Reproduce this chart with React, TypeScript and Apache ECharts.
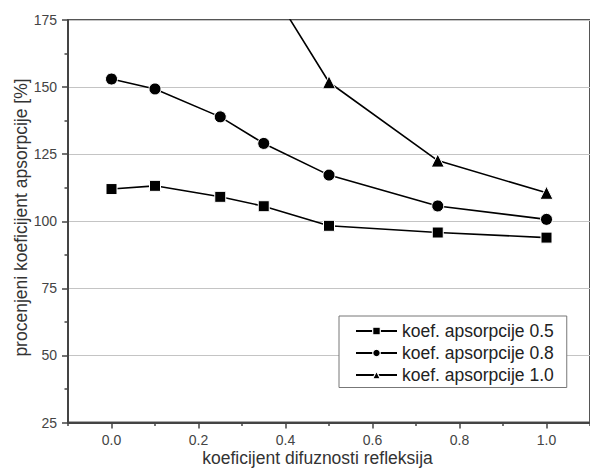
import React, { useEffect, useRef } from "react";
import * as echarts from "echarts";

// Data
const xTicks = [0.0, 0.2, 0.4, 0.6, 0.8, 1.0];
const seriesNames = ["koef. apsorpcije 0.5", "koef. apsorpcije 0.8", "koef. apsorpcije 1.0"];
const x05 = [0.0, 0.1, 0.25, 0.35, 0.5, 0.75, 1.0];
const y05 = [112.0, 113.2, 109.1, 105.6, 98.3, 95.8, 93.9];
const x08 = [0.0, 0.1, 0.25, 0.35, 0.5, 0.75, 1.0];
const y08 = [153.0, 149.3, 138.9, 129.0, 117.2, 105.7, 100.7];
const x10 = [0.35, 0.5, 0.75, 1.0];
const y10 = [191.0, 151.8, 122.6, 110.6];
const xTitle = "koeficijent difuznosti refleksija";
const yTitle = "procenjeni koeficijent apsorpcije [%]";

const FONT = "'Liberation Sans', Arial, Helvetica, sans-serif";

const zip = (xs: number[], ys: number[]) => xs.map((x, i) => [x, ys[i]]);

export default function App() {
  const ref = useRef<HTMLDivElement>(null);
  useEffect(() => {
    if (!ref.current) return;
    const chart = echarts.init(ref.current, undefined, { renderer: "svg" });
    const mkSeries = (name: string, data: number[][], symbol: string, size: number) => ({
      name,
      type: "line",
      xAxisIndex: 0,
      yAxisIndex: 0,
      data,
      symbol,
      symbolSize: size,
      clip: true,
      lineStyle: { color: "#000", width: 1.6 },
      itemStyle: { color: "#000", borderColor: "#fff", borderWidth: 1 },
      z: 3,
    });
    chart.setOption({
      animation: false,
      backgroundColor: "#fff",
      textStyle: { fontFamily: FONT },
      grid: {
        left: 68,
        right: -1,
        top: 20,
        bottom: 47.5,
        show: true,
        borderColor: "#555",
        borderWidth: 2,
        backgroundColor: "transparent",
      },
      xAxis: [
        {
          type: "value",
          position: "bottom",
          min: -0.1,
          max: 1.1,
          interval: 0.2,
          axisLine: { show: true, onZero: false, lineStyle: { color: "#444", width: 2 } },
          axisTick: { show: true, customValues: xTicks, length: 6, lineStyle: { color: "#444", width: 1.5 } },
          axisLabel: {
            show: true,
            customValues: xTicks,
            margin: 10,
            fontSize: 14,
            color: "#444",
            fontFamily: FONT,
            formatter: (v: number) => v.toFixed(1),
          },
          splitLine: { show: false },
        },
        {
          type: "value",
          position: "bottom",
          min: -0.1,
          max: 1.1,
          interval: 0.2,
          axisLine: { show: false },
          axisTick: { show: true, length: 3.5, lineStyle: { color: "#444", width: 1.5 } },
          axisLabel: { show: false },
          splitLine: { show: false },
        },
      ],
      yAxis: {
        type: "value",
        min: 25,
        max: 175,
        interval: 25,
        axisLine: { show: true, onZero: false, lineStyle: { color: "#444", width: 2 } },
        axisTick: { show: true, length: 6, lineStyle: { color: "#444", width: 1.5 } },
        minorTick: { show: true, splitNumber: 2, length: 3.5, lineStyle: { color: "#444", width: 1.5 } },
        axisLabel: { margin: 11, fontSize: 14, color: "#444", fontFamily: FONT },
        splitLine: { show: true, lineStyle: { color: "#c4c4c4", width: 1.2 } },
      },
      legend: {
        orient: "vertical",
        left: 339,
        top: 316,
        padding: [6, 13, 3.5, 16],
        itemGap: 4,
        itemWidth: 41,
        itemHeight: 9.5,
        itemStyle: { color: "#000", borderColor: "#fff", borderWidth: 1.2 },
        backgroundColor: "#fff",
        borderColor: "#777",
        borderWidth: 1,
        borderRadius: 0,
        textStyle: { fontSize: 17.5, color: "#222", fontFamily: FONT },
        data: seriesNames,
      },
      graphic: [
        {
          type: "text",
          x: 317.5,
          y: 458,
          style: { text: xTitle, fontSize: 17.5, fill: "#333", fontFamily: FONT, align: "center", verticalAlign: "middle" },
        },
        {
          type: "text",
          x: 21,
          y: 217.5,
          rotation: Math.PI / 2,
          style: { text: yTitle, fontSize: 17.5, fill: "#333", fontFamily: FONT, align: "center", verticalAlign: "middle" },
        },
      ],
      series: [
        mkSeries(seriesNames[0], zip(x05, y05), "rect", 11),
        mkSeries(seriesNames[1], zip(x08, y08), "circle", 12),
        mkSeries(seriesNames[2], zip(x10, y10), "triangle", 13),
      ],
    });
    return () => chart.dispose();
  }, []);
  return (
    <div
      ref={ref}
      style={{ position: "fixed", left: 0, top: 0, width: 590, height: 470, background: "#fff" }}
    />
  );
}
